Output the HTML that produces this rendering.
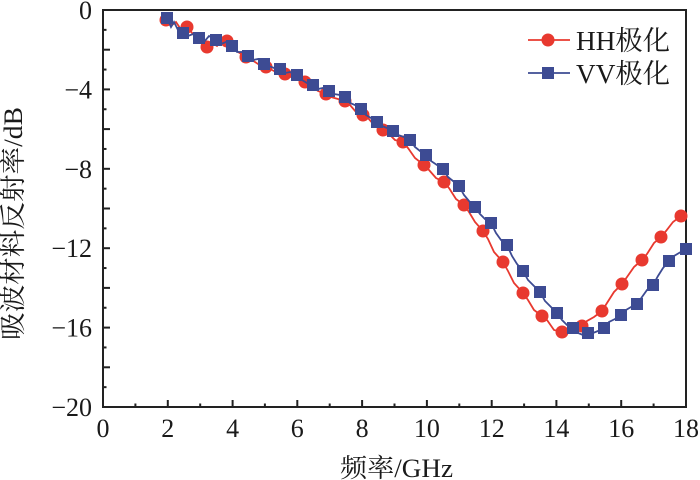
<!DOCTYPE html>
<html><head><meta charset="utf-8"><style>
html,body{margin:0;padding:0;background:#fff;}
svg{display:block;}
text{font-family:"Liberation Serif","Noto Serif CJK SC",serif;fill:#1a1a1a;}
</style></head><body>
<svg width="700" height="480" viewBox="0 0 700 480" xmlns="http://www.w3.org/2000/svg">
<rect width="700" height="480" fill="#fff"/>
<!-- ticks -->
<g stroke="#222" stroke-width="2">
<line x1="103" y1="29.85" x2="106.5" y2="29.85"/>
<line x1="103" y1="49.7" x2="110" y2="49.7"/>
<line x1="103" y1="69.55" x2="106.5" y2="69.55"/>
<line x1="103" y1="89.4" x2="110" y2="89.4"/>
<line x1="103" y1="109.25" x2="106.5" y2="109.25"/>
<line x1="103" y1="129.1" x2="110" y2="129.1"/>
<line x1="103" y1="148.95" x2="106.5" y2="148.95"/>
<line x1="103" y1="168.8" x2="110" y2="168.8"/>
<line x1="103" y1="188.65" x2="106.5" y2="188.65"/>
<line x1="103" y1="208.5" x2="110" y2="208.5"/>
<line x1="103" y1="228.35" x2="106.5" y2="228.35"/>
<line x1="103" y1="248.2" x2="110" y2="248.2"/>
<line x1="103" y1="268.05" x2="106.5" y2="268.05"/>
<line x1="103" y1="287.9" x2="110" y2="287.9"/>
<line x1="103" y1="307.75" x2="106.5" y2="307.75"/>
<line x1="103" y1="327.6" x2="110" y2="327.6"/>
<line x1="103" y1="347.45" x2="106.5" y2="347.45"/>
<line x1="103" y1="367.3" x2="110" y2="367.3"/>
<line x1="103" y1="387.15" x2="106.5" y2="387.15"/>

<line x1="135.4" y1="407" x2="135.4" y2="403.5"/>
<line x1="167.8" y1="407" x2="167.8" y2="400"/>
<line x1="200.2" y1="407" x2="200.2" y2="403.5"/>
<line x1="232.6" y1="407" x2="232.6" y2="400"/>
<line x1="264.9" y1="407" x2="264.9" y2="403.5"/>
<line x1="297.3" y1="407" x2="297.3" y2="400"/>
<line x1="329.7" y1="407" x2="329.7" y2="403.5"/>
<line x1="362.1" y1="407" x2="362.1" y2="400"/>
<line x1="394.5" y1="407" x2="394.5" y2="403.5"/>
<line x1="426.9" y1="407" x2="426.9" y2="400"/>
<line x1="459.3" y1="407" x2="459.3" y2="403.5"/>
<line x1="491.7" y1="407" x2="491.7" y2="400"/>
<line x1="524.1" y1="407" x2="524.1" y2="403.5"/>
<line x1="556.4" y1="407" x2="556.4" y2="400"/>
<line x1="588.8" y1="407" x2="588.8" y2="403.5"/>
<line x1="621.2" y1="407" x2="621.2" y2="400"/>
<line x1="653.6" y1="407" x2="653.6" y2="403.5"/>
</g>
<!-- frame -->
<rect x="103" y="10" width="583" height="397" fill="none" stroke="#222" stroke-width="2"/>

<!-- HH series -->
<polyline fill="none" stroke="#e8392f" stroke-width="1.8" points="166,20 172,25 176,22 180,28 187,27 193,34 197,38 202,44 207,47 212,43 217,46 222,40 227,41 233,46 238,52 246,57 252,60 258,64 266,67 272,70 278,73 285,74 291,77 298,80 305,82 311,86 318,91 326,94 331,97 338,99 345,101 350,105 356,112 363,115 368,118 375,126 383,130 388,133 395,140 403,142 408,148 415,158 424,165 429,170 436,178 444,182 449,188 456,199 464,205 469,212 475,222 483,231 488,239 494,252 503,262 508,271 514,283 523,293 528,300 534,310 542,316 547,320 554,330 562,332 567,331 574,329 582,326 587,321 594,317 602,311 607,303 614,292 622,284 627,277 634,267 642,260 647,254 654,243 661,237 666,231 673,222 681,216 685,212"/>
<g fill="#e8392f">
<circle cx="166" cy="20" r="6.5"/><circle cx="187" cy="27" r="6.5"/><circle cx="207" cy="47" r="6.5"/><circle cx="227" cy="41" r="6.5"/><circle cx="246" cy="57" r="6.5"/><circle cx="266" cy="67" r="6.5"/><circle cx="285" cy="74" r="6.5"/><circle cx="305" cy="82" r="6.5"/><circle cx="326" cy="94" r="6.5"/><circle cx="345" cy="101" r="6.5"/><circle cx="363" cy="115" r="6.5"/><circle cx="383" cy="130" r="6.5"/><circle cx="403" cy="142" r="6.5"/><circle cx="424" cy="165" r="6.5"/><circle cx="444" cy="182" r="6.5"/><circle cx="464" cy="205" r="6.5"/><circle cx="483" cy="231" r="6.5"/><circle cx="503" cy="262" r="6.5"/><circle cx="523" cy="293" r="6.5"/><circle cx="542" cy="316" r="6.5"/><circle cx="562" cy="332" r="6.5"/><circle cx="582" cy="326" r="6.5"/><circle cx="602" cy="311" r="6.5"/><circle cx="622" cy="284" r="6.5"/><circle cx="642" cy="260" r="6.5"/><circle cx="661" cy="237" r="6.5"/><circle cx="681" cy="216" r="6.5"/>
</g>

<!-- VV series -->
<polyline fill="none" stroke="#3d4b93" stroke-width="1.8" points="167,18 171,27 174,22 178,30 183,33 188,36 193,34 199,38 204,42 209,36 216,40 221,44 226,42 232,46 237,52 242,52 248,56 253,60 258,59 264,64 269,66 274,68 280,69 285,73 290,72 297,75 302,80 307,83 313,85 318,89 323,88 329,91 334,94 340,95 345,97 350,103 355,105 361,109 366,115 371,118 377,122 382,126 387,128 393,131 398,135 404,137 410,140 415,147 420,151 426,155 431,161 437,165 443,169 448,177 453,181 459,186 464,195 469,201 475,207 480,214 485,219 491,223 496,233 501,240 507,245 512,256 517,264 523,271 528,280 534,286 540,292 545,301 551,307 557,313 562,320 567,325 573,328 578,333 583,335 588,333 593,333 598,331 604,328 609,322 615,319 621,315 626,310 631,307 637,304 642,297 647,290 653,285 658,276 663,268 669,261 674,256 679,253 686,249"/>
<g fill="#3d4b93">
<rect x="161" y="12" width="12" height="12"/><rect x="177" y="27" width="12" height="12"/><rect x="193" y="32" width="12" height="12"/><rect x="210" y="34" width="12" height="12"/><rect x="226" y="40" width="12" height="12"/><rect x="242" y="50" width="12" height="12"/><rect x="258" y="58" width="12" height="12"/><rect x="274" y="63" width="12" height="12"/><rect x="291" y="69" width="12" height="12"/><rect x="307" y="79" width="12" height="12"/><rect x="323" y="85" width="12" height="12"/><rect x="339" y="91" width="12" height="12"/><rect x="355" y="103" width="12" height="12"/><rect x="371" y="116" width="12" height="12"/><rect x="387" y="125" width="12" height="12"/><rect x="404" y="134" width="12" height="12"/><rect x="420" y="149" width="12" height="12"/><rect x="437" y="163" width="12" height="12"/><rect x="453" y="180" width="12" height="12"/><rect x="469" y="201" width="12" height="12"/><rect x="485" y="217" width="12" height="12"/><rect x="501" y="239" width="12" height="12"/><rect x="517" y="265" width="12" height="12"/><rect x="534" y="286" width="12" height="12"/><rect x="551" y="307" width="12" height="12"/><rect x="567" y="322" width="12" height="12"/><rect x="582" y="327" width="12" height="12"/><rect x="598" y="322" width="12" height="12"/><rect x="615" y="309" width="12" height="12"/><rect x="631" y="298" width="12" height="12"/><rect x="647" y="279" width="12" height="12"/><rect x="663" y="255" width="12" height="12"/><rect x="680" y="243" width="12" height="12"/>
</g>

<!-- y tick labels -->
<g font-size="26" text-anchor="end">
<text x="92" y="19">0</text>
<text x="92" y="98.4">−4</text>
<text x="92" y="177.8">−8</text>
<text x="92" y="257.2">−12</text>
<text x="92" y="336.6">−16</text>
<text x="92" y="416">−20</text>
</g>
<!-- x tick labels -->
<g font-size="26" text-anchor="middle">
<text x="103" y="437">0</text>
<text x="167.8" y="437">2</text>
<text x="232.6" y="437">4</text>
<text x="297.3" y="437">6</text>
<text x="362.1" y="437">8</text>
<text x="426.9" y="437">10</text>
<text x="491.7" y="437">12</text>
<text x="556.4" y="437">14</text>
<text x="621.2" y="437">16</text>
<text x="686" y="437">18</text>
</g>
<!-- axis titles -->
<text x="340" y="477" font-size="26" textLength="113" lengthAdjust="spacingAndGlyphs">频率/GHz</text>
<text transform="translate(22,340) rotate(-90)" x="0" y="0" font-size="26" textLength="233" lengthAdjust="spacingAndGlyphs">吸波材料反射率/dB</text>

<!-- legend -->
<line x1="528" y1="40" x2="570" y2="40" stroke="#e8392f" stroke-width="1.8"/>
<circle cx="548" cy="40" r="6.5" fill="#e8392f"/>
<text x="576" y="50" font-size="27" textLength="94" lengthAdjust="spacingAndGlyphs">HH极化</text>
<line x1="528" y1="73" x2="570" y2="73" stroke="#3d4b93" stroke-width="1.8"/>
<rect x="542" y="67" width="12" height="12" fill="#3d4b93"/>
<text x="576" y="83" font-size="27" textLength="94" lengthAdjust="spacingAndGlyphs">VV极化</text>
</svg>
</body></html>
